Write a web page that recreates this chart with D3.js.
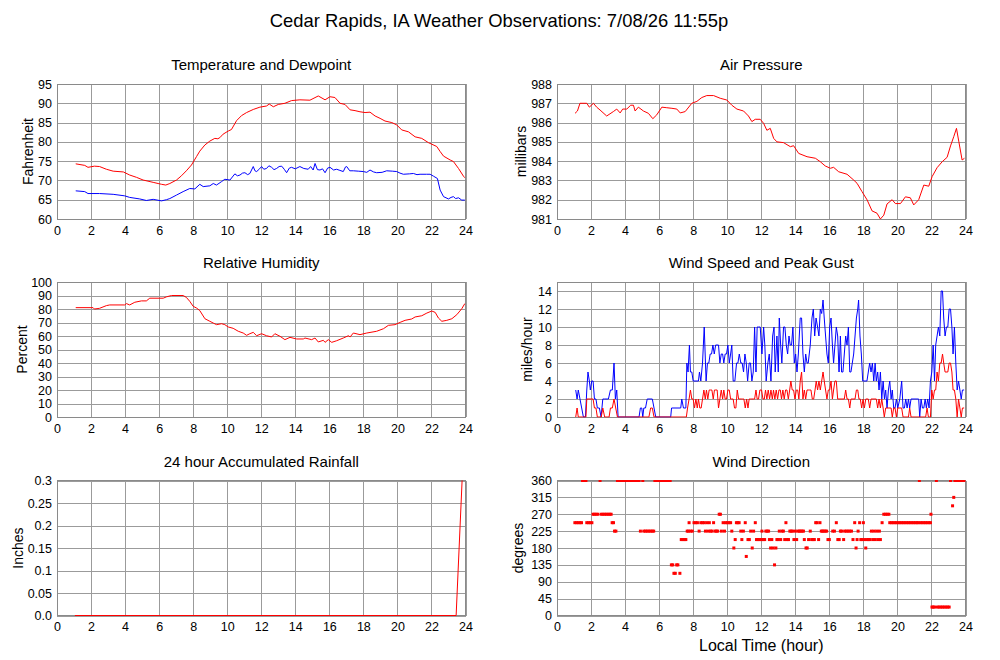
<!DOCTYPE html>
<html><head><meta charset="utf-8">
<script src="https://cdn.jsdelivr.net/npm/d3@7"></script>
<style>
body{margin:0;background:#fff;}
svg{display:block;font-family:"Liberation Sans",Arial,Helvetica,sans-serif;}
</style>
</head><body>
<svg id="c" width="1000" height="660"></svg>
<script>
// ---------- tick labels ----------
const hourTicks = [0,2,4,6,8,10,12,14,16,18,20,22,24];
const tempTicks = [60,65,70,75,80,85,90,95];
const pressTicks = [981,982,983,984,985,986,987,988];
const rhTicks = [0,10,20,30,40,50,60,70,80,90,100];
const windTicks = [0,2,4,6,8,10,12,14];
const rainTicks = [0,0.05,0.1,0.15,0.2,0.25,0.3];
const rainTickLabels = ["0.0","0.05","0.1","0.15","0.2","0.25","0.3"];
const dirTicks = [0,45,90,135,180,225,270,315,360];

// ---------- series values [hour, value] ----------
const temperature = [[1.1,74.3],[1.63,73.9],[1.82,73.4],[2.2,73.7],[2.5,73.6],[2.9,72.9],[3.3,72.4],[3.9,72.2],[4.27,71.4],[4.67,70.8],[5.06,70.1],[5.65,69.5],[5.94,69.2],[6.14,69.0],[6.39,68.8],[6.63,69.2],[7.02,70.1],[7.31,71.2],[7.6,72.5],[7.9,74.0],[8.2,76.2],[8.39,77.6],[8.69,79.2],[8.98,80.2],[9.27,80.9],[9.45,80.8],[9.57,81.1],[9.76,82.0],[10.06,82.8],[10.25,83.2],[10.55,85.5],[10.84,86.8],[11.14,87.6],[11.53,88.4],[11.92,89.0],[12.31,89.3],[12.47,89.8],[12.71,89.1],[13.0,89.7],[13.39,90.0],[13.78,90.7],[14.27,90.9],[14.86,90.8],[15.35,91.9],[15.75,90.9],[16.04,91.7],[16.33,91.5],[16.63,90.0],[16.92,89.7],[17.22,88.3],[17.51,88.1],[17.8,87.8],[18.1,87.6],[18.39,87.7],[18.69,86.7],[18.98,86.1],[19.27,85.4],[19.67,85.0],[19.96,84.4],[20.25,83.1],[20.65,82.6],[21.04,81.3],[21.43,80.9],[21.82,79.8],[22.31,78.8],[22.51,77.5],[22.71,76.3],[23.1,75.3],[23.29,74.9],[23.59,73.1],[23.88,71.1],[23.96,70.7]];

const dewpoint = [[1.1,67.3],[1.63,67.1],[1.82,66.6],[2.5,66.6],[3.3,66.4],[3.98,66.0],[4.27,65.6],[4.86,65.2],[5.25,64.8],[5.65,65.1],[6.14,64.7],[6.43,65.0],[6.63,65.3],[7.02,66.2],[7.41,67.1],[7.8,67.9],[8.1,67.8],[8.39,69.0],[8.59,68.4],[8.98,68.6],[9.18,69.2],[9.37,68.8],[9.67,69.7],[9.86,70.3],[10.16,70.1],[10.45,71.7],[10.6,71.2],[10.75,71.4],[10.9,71.9],[11.04,72.0],[11.2,71.5],[11.33,71.8],[11.53,73.6],[11.63,72.5],[11.73,72.3],[11.9,73.0],[12.02,73.6],[12.15,72.9],[12.31,73.1],[12.45,73.8],[12.61,73.4],[12.75,72.8],[12.9,73.1],[13.05,73.6],[13.2,73.7],[13.35,72.9],[13.49,72.0],[13.65,73.2],[13.78,73.4],[14.0,73.0],[14.27,73.6],[14.5,73.1],[14.76,72.9],[14.9,73.6],[15.05,72.7],[15.16,74.4],[15.3,72.8],[15.45,72.7],[15.6,73.0],[15.75,72.0],[15.9,73.2],[16.04,73.4],[16.25,72.7],[16.43,72.9],[16.62,72.6],[16.82,72.3],[16.95,73.5],[17.02,73.6],[17.2,72.5],[17.41,72.5],[17.7,72.4],[18.0,72.3],[18.2,72.1],[18.39,72.7],[18.6,72.2],[18.78,72.0],[19.1,72.1],[19.37,72.5],[19.7,72.4],[19.96,72.3],[20.15,71.9],[20.35,71.6],[20.7,71.7],[20.94,71.8],[21.15,71.5],[21.33,71.6],[21.7,71.6],[21.92,71.6],[22.12,71.1],[22.35,70.5],[22.51,67.5],[22.71,65.8],[23.0,65.2],[23.15,65.6],[23.29,65.8],[23.42,65.3],[23.59,65.5],[23.78,64.9],[23.96,64.9]];

const pressure = [[1.06,986.48],[1.2,986.6],[1.35,987.0],[1.75,987.0],[1.9,986.8],[2.14,987.0],[2.33,986.8],[2.53,986.65],[2.92,986.34],[3.31,986.57],[3.51,986.7],[3.71,986.5],[3.86,986.7],[4.1,986.7],[4.33,986.9],[4.49,986.9],[4.59,986.6],[4.78,986.8],[5.08,986.6],[5.37,986.48],[5.63,986.2],[5.86,986.4],[6.16,986.8],[6.45,986.77],[6.75,986.74],[7.04,986.7],[7.24,986.5],[7.53,986.57],[7.92,987.0],[8.22,987.1],[8.51,987.3],[8.8,987.4],[9.2,987.4],[9.59,987.26],[9.98,987.17],[10.27,986.9],[10.57,986.7],[10.96,986.6],[11.25,986.34],[11.45,986.05],[11.65,986.17],[11.94,986.17],[12.14,985.96],[12.33,985.6],[12.53,985.7],[12.73,985.18],[12.92,985.0],[13.31,984.96],[13.71,984.75],[13.9,984.8],[14.2,984.4],[14.69,984.23],[15.18,984.15],[15.47,983.97],[15.76,983.75],[16.06,983.63],[16.25,983.68],[16.55,983.45],[17.04,983.32],[17.43,983.02],[17.63,982.85],[17.92,982.42],[18.22,981.99],[18.51,981.42],[18.8,981.3],[19.0,981.0],[19.2,981.2],[19.39,981.78],[19.69,982.0],[19.88,981.8],[20.18,981.8],[20.47,982.15],[20.76,982.1],[20.96,981.73],[21.25,982.0],[21.55,982.76],[21.84,982.7],[22.04,983.2],[22.33,983.66],[22.63,983.97],[22.92,984.2],[23.12,984.79],[23.31,985.27],[23.47,985.7],[23.61,985.0],[23.8,984.06],[23.94,984.15]];

const humidity = [[1.1,81],[2.12,81],[2.2,80],[2.5,80.5],[2.9,82.5],[3.1,83],[3.98,83],[4.08,84],[4.27,83],[4.57,85],[4.96,86],[5.25,86],[5.45,88],[6.24,88],[6.43,89],[6.73,90],[7.41,90],[7.6,88.6],[7.8,85.7],[8.0,82],[8.2,80.7],[8.39,78.8],[8.69,72.8],[8.98,70.9],[9.18,69.6],[9.37,68.4],[9.67,69.1],[9.86,68.4],[10.06,66.7],[10.35,65.7],[10.65,63.5],[10.94,62.2],[11.14,60.5],[11.33,61.7],[11.53,62.7],[11.73,60.2],[12.02,61.7],[12.31,60.2],[12.61,59.3],[12.8,61.7],[13.1,59.8],[13.39,57.3],[13.69,59],[14.08,57.8],[14.47,57.8],[14.57,58.5],[14.96,57.3],[15.16,58.5],[15.35,55.6],[15.65,56.8],[15.75,55.3],[15.94,57.3],[16.14,55.3],[16.43,56.5],[16.82,58.5],[17.12,60.2],[17.22,59.3],[17.41,62.2],[17.8,61],[18.2,62.2],[18.78,63.5],[19.18,65.4],[19.47,67.9],[19.86,68.4],[20.16,70.1],[20.45,71.6],[20.84,72.6],[21.04,74.1],[21.43,75],[21.73,77],[22.02,78.5],[22.22,77.5],[22.41,73.3],[22.61,70.9],[22.9,71.6],[23.2,72.8],[23.49,75.8],[23.78,80.2],[23.96,84]];

const windSpeed = [[1.1,0],[1.18,1],[1.25,0],[1.5,0],[1.7,0],[1.75,2],[2.12,2],[2.2,1],[2.29,1],[2.37,0],[2.6,0],[2.69,1],[2.8,0],[3.06,0],[3.14,1],[3.25,1],[3.35,2],[3.45,1],[3.55,0],[5.4,0],[5.5,1],[5.6,1],[5.7,0],[7.6,0],[7.67,1],[7.76,2],[7.84,3],[7.92,2],[8.0,2],[8.08,1],[8.16,2],[8.24,1],[8.31,2],[8.39,1],[8.47,1],[8.55,2],[8.63,3],[8.71,2],[8.78,3],[8.86,2],[8.94,3],[9.02,3],[9.1,3],[9.18,2],[9.25,3],[9.33,3],[9.41,3],[9.49,1],[9.57,2],[9.65,3],[9.73,2],[9.8,3],[9.88,2],[9.96,2],[10.04,3],[10.12,3],[10.2,2],[10.27,2],[10.35,2],[10.43,1],[10.51,1],[10.59,3],[10.67,2],[10.75,2],[10.82,2],[10.9,2],[10.98,2],[11.06,1],[11.14,2],[11.22,1],[11.29,2],[11.37,2],[11.45,2],[11.53,2],[11.61,2],[11.69,3],[11.76,2],[11.84,2],[11.92,3],[12.02,3],[12.1,2],[12.18,2],[12.25,3],[12.33,2],[12.41,3],[12.49,2],[12.57,3],[12.65,2],[12.72,3],[12.8,2],[12.88,3],[12.96,2],[13.04,3],[13.12,3],[13.19,2],[13.27,3],[13.35,2],[13.43,3],[13.51,3],[13.59,2],[13.67,3],[13.74,4],[13.82,3],[13.9,3],[13.98,2],[14.06,3],[14.14,3],[14.21,2],[14.29,4],[14.37,5],[14.45,2],[14.53,3],[14.61,2],[14.69,3],[14.76,3],[14.84,3],[14.92,3],[15.0,2],[15.08,2],[15.16,3],[15.23,4],[15.31,3],[15.39,4],[15.47,3],[15.55,4],[15.63,5],[15.7,4],[15.78,3],[15.86,2],[15.94,3],[16.02,3],[16.1,4],[16.18,2],[16.25,3],[16.33,4],[16.41,4],[16.49,2],[16.88,2],[16.96,3],[17.04,2],[17.12,2],[17.2,1],[17.27,2],[17.51,2],[17.59,3],[17.67,3],[17.74,2],[17.82,2],[17.9,1],[17.98,2],[18.06,1],[18.14,2],[18.29,2],[18.37,1],[18.45,2],[18.76,2],[18.84,1],[18.92,2],[19.0,1],[19.08,2],[19.16,1],[19.23,0],[19.31,1],[19.63,1],[19.7,0],[19.78,1],[19.86,1],[19.94,0],[20.02,1],[20.25,1],[20.33,0],[20.65,0],[20.72,1],[20.8,0],[21.66,0],[21.74,1],[21.82,0],[21.94,0],[22.02,3],[22.1,2],[22.18,3],[22.25,3],[22.33,5],[22.41,4],[22.49,6],[22.57,6],[22.65,7],[22.72,6],[22.8,5],[22.96,5],[23.04,6],[23.12,6],[23.2,5],[23.27,3],[23.35,3],[23.43,2],[23.51,0],[23.59,2],[23.67,1],[23.75,0],[23.82,1],[23.92,1]];

const windGust = [[1.1,3],[1.18,2],[1.25,3],[1.35,2],[1.45,1],[1.55,0],[1.67,0],[1.75,3],[1.82,5],[1.9,4],[1.96,3],[2.04,4],[2.12,4],[2.2,2],[2.29,2],[2.37,1],[2.49,1],[2.59,0],[2.69,2],[2.8,2],[3.02,2],[3.14,3],[3.25,3],[3.35,6],[3.43,2],[3.51,3],[3.59,0],[4.82,0],[4.9,1],[4.98,1],[5.04,0],[5.1,1],[5.2,1],[5.3,2],[5.6,2],[5.7,1],[5.8,0],[6.68,0],[6.73,1],[7.27,1],[7.33,2],[7.43,1],[7.57,1],[7.63,6],[7.7,5],[7.78,8],[7.84,5],[7.92,5],[8.0,4],[8.31,4],[8.37,5],[8.45,4],[8.55,6],[8.65,10],[8.76,4],[8.84,6],[8.92,6],[9.0,7],[9.08,7],[9.16,8],[9.24,7],[9.32,8],[9.4,8],[9.49,8],[9.57,6],[9.65,7],[9.73,7],[9.8,6],[9.88,7],[9.96,7],[10.04,8],[10.12,6],[10.2,7],[10.27,8],[10.35,4],[10.45,4],[10.55,6],[10.63,6],[10.71,7],[10.8,6],[10.88,6],[10.96,5],[11.04,7],[11.12,6],[11.2,4],[11.29,6],[11.37,6],[11.45,4],[11.53,5],[11.61,10],[11.69,5],[11.76,10],[11.84,10],[11.94,10],[12.04,7],[12.14,10],[12.21,8],[12.29,4],[12.39,6],[12.47,7],[12.57,4],[12.67,9],[12.75,10],[12.82,5],[12.92,9],[13.0,5],[13.06,11],[13.14,8],[13.21,6],[13.31,10],[13.39,10],[13.47,8],[13.55,7],[13.63,9],[13.7,8],[13.78,8],[13.86,10],[13.94,6],[14.02,7],[14.1,5],[14.18,7],[14.29,11],[14.37,11],[14.45,7],[14.53,5],[14.61,7],[14.69,6],[14.76,6],[14.88,8],[14.98,11],[15.06,12],[15.14,9],[15.22,11],[15.31,10],[15.39,9],[15.47,12],[15.55,11.5],[15.63,13],[15.7,11],[15.78,9],[15.86,7],[15.94,6],[16.02,10],[16.1,11],[16.18,8],[16.25,6],[16.33,8],[16.41,10],[16.49,9],[16.57,5],[16.65,9],[16.72,5],[16.8,5],[16.88,7],[16.96,9],[17.04,8],[17.12,10],[17.2,5],[17.27,5],[17.35,6],[17.43,7],[17.51,9],[17.59,11],[17.67,12],[17.72,13],[17.8,9],[17.88,7],[17.96,4],[18.21,4],[18.29,5],[18.37,6],[18.45,5],[18.53,6],[18.61,4],[18.69,6],[18.76,4],[18.84,5],[18.92,3],[19.0,5],[19.08,2],[19.16,4],[19.24,2],[19.31,3],[19.39,1],[19.47,3],[19.55,4],[19.63,2],[19.7,3],[19.78,1],[19.86,1],[19.94,2],[20.02,1],[20.14,2],[20.25,4],[20.33,1],[20.41,1],[20.49,2],[20.57,1],[20.65,2],[20.72,1],[20.8,2],[21.25,2],[21.31,0],[21.39,2],[21.47,1],[21.55,1],[21.63,2],[21.7,1],[21.78,2],[21.86,1],[21.94,4],[22.02,5],[22.1,8],[22.18,4],[22.25,8],[22.33,9],[22.41,10],[22.49,9],[22.57,14],[22.65,14],[22.72,11],[22.8,9],[22.88,10],[22.96,10],[23.04,12],[23.12,12],[23.2,10],[23.27,7],[23.35,10],[23.43,6],[23.51,3],[23.59,4],[23.67,3],[23.75,2],[23.82,3],[23.92,3]];

const rainfall = [[1.05,0],[23.45,0],[23.8,0.3]];

const windDir = [[1.05,247.5],[1.15,247.5],[1.25,247.5],[1.35,247.5],[1.44,247.5],[1.5,360],[1.6,360],[1.7,360],[1.75,247.5],[1.85,247.5],[1.95,247.5],[2.05,247.5],[2.12,270],[2.2,270],[2.3,270],[2.4,270],[2.53,360],[2.6,270],[2.7,270],[2.8,270],[2.9,270],[3.0,270],[3.1,270],[3.18,270],[3.24,247.5],[3.32,247.5],[3.38,225],[3.46,225],[3.55,360],[3.65,360],[3.75,360],[3.85,360],[3.95,360],[4.05,360],[4.15,360],[4.25,360],[4.35,360],[4.45,360],[4.55,360],[4.65,360],[4.75,360],[4.82,360],[4.9,225],[5.04,360],[5.1,225],[5.2,225],[5.3,225],[5.4,225],[5.5,225],[5.6,225],[5.68,225],[5.75,360],[5.85,360],[5.95,360],[6.05,360],[6.15,360],[6.25,360],[6.35,360],[6.45,360],[6.55,360],[6.65,360],[6.72,135],[6.8,135],[6.87,112.5],[6.95,112.5],[7.03,135],[7.1,135],[7.22,112.5],[7.3,202.5],[7.4,202.5],[7.5,202.5],[7.57,202.5],[7.65,225],[7.72,225],[7.76,247.5],[7.85,225],[7.95,225],[8.05,247.5],[8.15,247.5],[8.25,247.5],[8.35,225],[8.45,247.5],[8.55,247.5],[8.65,247.5],[8.72,225],[8.8,247.5],[8.88,225],[8.95,247.5],[9.02,225],[9.1,225],[9.2,247.5],[9.28,225],[9.36,225],[9.44,225],[9.53,270],[9.6,270],[9.66,225],[9.76,247.5],[9.84,225],[9.9,247.5],[10.0,247.5],[10.1,247.5],[10.2,247.5],[10.27,225],[10.39,180],[10.47,202.5],[10.54,247.5],[10.62,247.5],[10.7,247.5],[10.8,225],[10.86,202.5],[10.95,225],[11.06,247.5],[11.12,157.5],[11.22,202.5],[11.3,202.5],[11.38,225],[11.47,180],[11.55,225],[11.65,247.5],[11.72,202.5],[11.8,202.5],[11.9,202.5],[12.0,202.5],[12.04,225],[12.12,202.5],[12.2,202.5],[12.27,225],[12.35,225],[12.43,225],[12.48,202.5],[12.55,180],[12.62,202.5],[12.7,180],[12.78,135],[12.86,180],[12.92,202.5],[13.0,202.5],[13.06,225],[13.14,202.5],[13.22,225],[13.3,225],[13.38,202.5],[13.45,247.5],[13.52,202.5],[13.6,202.5],[13.68,225],[13.76,225],[13.84,225],[13.92,202.5],[14.0,225],[14.08,202.5],[14.16,225],[14.24,225],[14.32,225],[14.4,225],[14.48,225],[14.53,202.5],[14.63,180],[14.7,180],[14.78,202.5],[14.88,225],[14.96,202.5],[15.05,202.5],[15.12,202.5],[15.2,247.5],[15.28,247.5],[15.37,202.5],[15.45,247.5],[15.53,225],[15.6,225],[15.68,225],[15.76,225],[15.84,225],[15.92,202.5],[16.0,202.5],[16.2,225],[16.3,225],[16.41,247.5],[16.5,202.5],[16.58,202.5],[16.65,225],[16.72,225],[16.84,202.5],[16.9,225],[17.0,225],[17.1,225],[17.2,225],[17.3,225],[17.39,202.5],[17.49,247.5],[17.57,180],[17.63,202.5],[17.69,225],[17.78,247.5],[17.85,202.5],[17.92,202.5],[18.0,247.5],[18.07,202.5],[18.14,180],[18.22,202.5],[18.3,202.5],[18.38,202.5],[18.47,225],[18.55,202.5],[18.62,225],[18.7,202.5],[18.78,225],[18.86,202.5],[18.94,225],[19.0,202.5],[19.1,247.5],[19.2,270],[19.3,270],[19.4,270],[19.5,270],[19.55,247.5],[19.65,247.5],[19.75,247.5],[19.85,247.5],[19.95,247.5],[20.05,247.5],[20.15,247.5],[20.25,247.5],[20.35,247.5],[20.45,247.5],[20.55,247.5],[20.65,247.5],[20.75,247.5],[20.85,247.5],[20.95,247.5],[21.05,247.5],[21.15,247.5],[21.22,247.5],[21.29,360],[21.35,247.5],[21.45,247.5],[21.55,247.5],[21.65,247.5],[21.75,247.5],[21.85,247.5],[21.94,247.5],[21.97,270],[22.03,22.5],[22.1,22.5],[22.18,22.5],[22.29,360],[22.35,22.5],[22.45,22.5],[22.55,22.5],[22.65,22.5],[22.75,22.5],[22.85,22.5],[22.95,22.5],[23.04,22.5],[23.12,360],[23.24,292.5],[23.31,315],[23.38,360],[23.46,360],[23.54,360],[23.62,360],[23.7,360],[23.78,360],[23.86,360],[23.93,360]];

// ---------- layout ----------
const W = 408.5, H = 135;
const RED = "#ff0000", BLUE = "#0000ff";
const panels = [
  {title:"Temperature and Dewpoint", left:57, top:84, domain:[60,95], ticks:tempTicks, ylabel:"Fahrenheit", ylx:28,
   lines:[{data:temperature,color:RED},{data:dewpoint,color:BLUE}]},
  {title:"Air Pressure", left:557, top:84, domain:[981,988], ticks:pressTicks, ylabel:"millibars", ylx:521,
   lines:[{data:pressure,color:RED}]},
  {title:"Relative Humidity", left:57, top:282, domain:[0,100], ticks:rhTicks, ylabel:"Percent", ylx:22,
   lines:[{data:humidity,color:RED}]},
  {title:"Wind Speed and Peak Gust", left:557, top:282, domain:[0,15], ticks:windTicks, ylabel:"miles/hour", ylx:527,
   lines:[{data:windGust,color:BLUE},{data:windSpeed,color:RED}]},
  {title:"24 hour Accumulated Rainfall", left:57, top:480.5, domain:[0,0.3], ticks:rainTicks, labels:rainTickLabels, ylabel:"Inches", ylx:18,
   lines:[{data:rainfall,color:RED}]},
  {title:"Wind Direction", left:557, top:480.5, domain:[0,360], ticks:dirTicks, ylabel:"degrees", ylx:518,
   points:windDir}
];

const svg = d3.select("#c");
svg.append("rect").attr("width",1000).attr("height",660).attr("fill","#fff");

svg.append("text").attr("x",499).attr("y",27).attr("text-anchor","middle")
  .attr("font-size",18.4).attr("fill","#000")
  .text("Cedar Rapids, IA Weather Observations: 7/08/26 11:55p");

panels.forEach((p,i)=>{
  const x = d3.scaleLinear().domain([0,24]).range([p.left,p.left+W]);
  const y = d3.scaleLinear().domain(p.domain).range([p.top+H,p.top]);
  const g = svg.append("g");

  // grid + x labels
  const xa = d3.axisBottom(x).tickValues(hourTicks).tickSize(-H).tickPadding(7).tickFormat(d3.format("d"));
  const gx = g.append("g").attr("transform",`translate(0,${p.top+H})`).call(xa);
  const ya = d3.axisLeft(y).tickValues(p.ticks).tickSize(-W).tickPadding(5)
     .tickFormat((d,k)=> p.labels ? p.labels[k] : d3.format("d")(d));
  const gy = g.append("g").attr("transform",`translate(${p.left},0)`).call(ya);
  [gx,gy].forEach(a=>{
    a.select(".domain").remove();
    a.selectAll(".tick line").attr("stroke","#9b9b9b").attr("stroke-width",1).attr("shape-rendering","crispEdges");
    a.selectAll(".tick text").attr("font-size",12.5).attr("fill","#000")
      .attr("font-family",'"Liberation Sans",Arial,sans-serif');
  });

  // frame
  g.append("rect").attr("x",p.left).attr("y",p.top).attr("width",W).attr("height",H)
    .attr("fill","none").attr("stroke","#8a8a8a").attr("stroke-width",1).attr("shape-rendering","crispEdges");

  // clip
  const cid = "clip"+i;
  svg.append("clipPath").attr("id",cid).append("rect")
    .attr("x",p.left).attr("y",p.top-0.5).attr("width",W).attr("height",H+1);
  const plot = g.append("g").attr("clip-path",`url(#${cid})`);

  if (p.lines) {
    const line = d3.line().x(d=>x(d[0])).y(d=>y(d[1]));
    p.lines.forEach(s=>{
      plot.append("path").datum(s.data).attr("d",line)
        .attr("fill","none").attr("stroke",s.color).attr("stroke-width",1);
    });
  }
  if (p.points) {
    plot.selectAll("rect.pt").data(p.points).join("rect").attr("class","pt")
      .attr("x",d=>x(d[0])-1.5).attr("y",d=>y(d[1])-1.5)
      .attr("width",3).attr("height",3).attr("fill",RED);
  }

  // titles
  g.append("text").attr("x",p.left+W/2).attr("y",p.top-14).attr("text-anchor","middle")
    .attr("font-size",15).attr("fill","#000").text(p.title);
  g.append("text").attr("transform",`translate(${p.ylx},${p.top+H/2}) rotate(-90)`)
    .attr("text-anchor","middle").attr("dy","0.35em").attr("font-size",14).attr("fill","#000").text(p.ylabel);
});

svg.append("text").attr("x",557+W/2).attr("y",651).attr("text-anchor","middle")
  .attr("font-size",16).attr("fill","#000").text("Local Time (hour)");
</script>
</body></html>
